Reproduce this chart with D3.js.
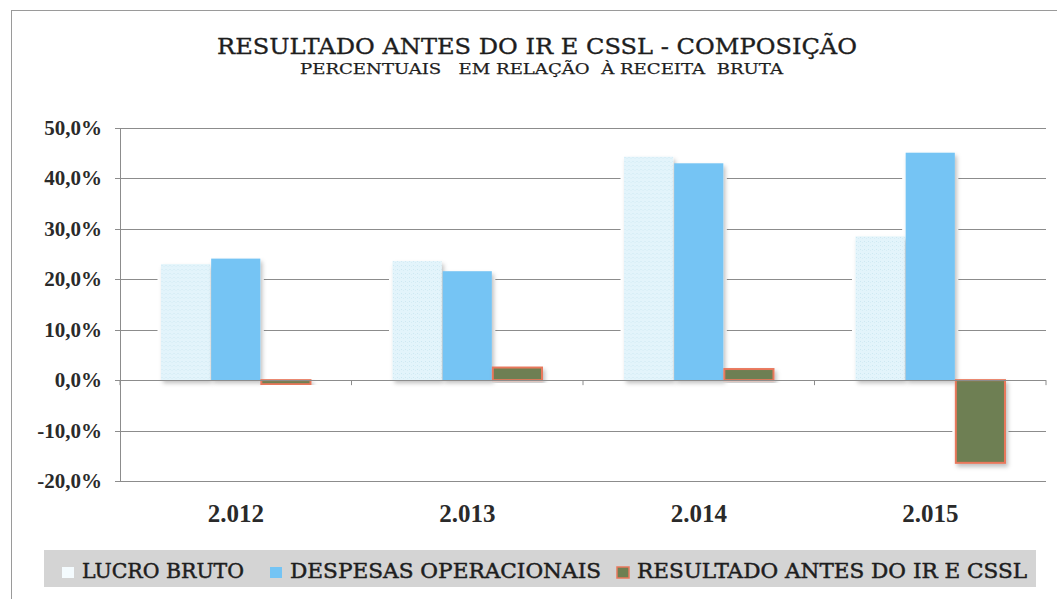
<!DOCTYPE html>
<html>
<head>
<meta charset="utf-8">
<script src="https://cdn.jsdelivr.net/npm/d3@7"></script>
<style>
  body { margin: 0; background: #fff; }
  svg { display: block; }
  svg text { font-family: "Liberation Serif", "DejaVu Serif", serif; font-weight: bold; fill: #2a2a2a; }
  svg text.titulo { font-family: "DejaVu Serif", serif; font-weight: normal; fill: #1e1e1e; stroke: #1e1e1e; stroke-width: 0.35px; }
</style>
</head>
<body>
<div class="chart"></div>
<script>

var anos = ["2.012", "2.013", "2.014", "2.015"];
var series = ["LUCRO BRUTO", "DESPESAS OPERACIONAIS", "RESULTADO ANTES DO IR E CSSL"];
var lucroBruto = [23.0, 23.6, 44.3, 28.5];
var despesas = [24.1, 21.6, 43.0, 45.1];
var resultado = [-0.8, 2.5, 2.2, -16.4];
var yTicks = [50, 40, 30, 20, 10, 0, -10, -20];

var width = 1057, height = 599;

var svg = d3.select("div.chart")
    .append("svg")
    .attr("width", width)
    .attr("height", height);

var defs = svg.append("defs");

// leve sombra nas barras
var f = defs.append("filter").attr("id", "sombra")
    .attr("x", "-10%").attr("y", "-10%").attr("width", "130%").attr("height", "130%");
f.append("feDropShadow").attr("dx", 2).attr("dy", 3).attr("stdDeviation", 2)
    .attr("flood-color", "#000").attr("flood-opacity", 0.25);

// textura pontilhada do lucro bruto
var pat = defs.append("pattern").attr("id", "pontos")
    .attr("width", 4).attr("height", 4).attr("patternUnits", "userSpaceOnUse");
pat.append("rect").attr("width", 4).attr("height", 4).attr("fill", "#e3f4fb");
pat.append("rect").attr("x", 1).attr("y", 1).attr("width", 1).attr("height", 1).attr("fill", "#cde8f2");
pat.append("rect").attr("x", 3).attr("y", 2).attr("width", 1).attr("height", 1).attr("fill", "#d6edf5");

// moldura
svg.append("rect")
    .attr("x", 11.5).attr("y", 10.5)
    .attr("width", width + 20).attr("height", height + 20)
    .attr("fill", "none").attr("stroke", "#9a9a9a");

// titulos
svg.append("text")
    .attr("class", "titulo")
    .attr("x", 217).attr("y", 54)
    .attr("textLength", 640).attr("lengthAdjust", "spacingAndGlyphs")
    .style("font-size", "23px")
    .text("RESULTADO ANTES DO IR E CSSL - COMPOSIÇÃO");

svg.append("text")
    .attr("class", "titulo")
    .attr("x", 300).attr("y", 74)
    .attr("textLength", 483).attr("lengthAdjust", "spacingAndGlyphs")
    .attr("xml:space", "preserve")
    .style("font-size", "15px")
    .style("stroke-width", "0.25px")
    .style("white-space", "pre")
    .text("PERCENTUAIS   EM RELAÇÃO  À RECEITA  BRUTA");

var x0 = d3.scaleBand()
    .domain(anos)
    .range([120, 1046])
    .paddingInner(0.35)
    .paddingOuter(0.175);

var x1 = d3.scaleBand()
    .domain(series)
    .range([0, x0.bandwidth()]);

var y = d3.scaleLinear()
    .domain([-20, 50])
    .range([481, 128]);

// grade
svg.append("g")
    .selectAll("line")
    .data(yTicks)
    .enter()
    .append("line")
    .attr("x1", 115).attr("x2", 1046)
    .attr("y1", function (d) { return Math.round(y(d)) + 0.5; })
    .attr("y2", function (d) { return Math.round(y(d)) + 0.5; })
    .attr("stroke", "#8c8c8c")
    .attr("stroke-width", 1);

// eixo y
svg.append("line")
    .attr("x1", 120.5).attr("x2", 120.5)
    .attr("y1", y(50)).attr("y2", y(-20))
    .attr("stroke", "#8c8c8c");

svg.append("g")
    .selectAll("text")
    .data(yTicks)
    .enter()
    .append("text")
    .attr("x", 102)
    .attr("y", function (d) { return y(d) + 7; })
    .attr("text-anchor", "end")
    .style("font-size", "21px")
    .text(function (d) { return d.toFixed(1).replace(".", ",") + "%"; });

var rows = anos.map(function (a, i) {
    return {
        ano: a,
        vals: [
            { s: series[0], v: lucroBruto[i] },
            { s: series[1], v: despesas[i] },
            { s: series[2], v: resultado[i] }
        ]
    };
});

var fills = ["url(#pontos)", "#74c4f4", "#6e7f52"];
var strokes = ["none", "none", "#e8785c"];

var grupos = svg.append("g")
    .selectAll("g")
    .data(rows)
    .enter()
    .append("g")
    .attr("transform", function (d) { return "translate(" + x0(d.ano) + ",0)"; });

// halo branco que interrompe a grade
grupos.selectAll("rect.halo")
    .data(function (d) { return d.vals; })
    .enter()
    .append("rect")
    .attr("class", "halo")
    .attr("x", function (d) { return x1(d.s) - 3; })
    .attr("y", function (d) { return Math.min(y(d.v), y(0)) - 3; })
    .attr("width", x1.bandwidth() + 6)
    .attr("height", function (d) { return Math.abs(y(d.v) - y(0)) + 6; })
    .attr("fill", "#fff");

// linha do zero e marcas das categorias
svg.append("line")
    .attr("x1", 120).attr("x2", 1046)
    .attr("y1", Math.round(y(0)) + 0.5).attr("y2", Math.round(y(0)) + 0.5)
    .attr("stroke", "#8c8c8c");

svg.append("g")
    .selectAll("line")
    .data([120, 351.5, 583, 814.5, 1046])
    .enter()
    .append("line")
    .attr("x1", function (d) { return d; })
    .attr("x2", function (d) { return d; })
    .attr("y1", y(0)).attr("y2", y(0) + 5)
    .attr("stroke", "#8c8c8c");

grupos.selectAll("rect.bar")
    .data(function (d) { return d.vals; })
    .enter()
    .append("rect")
    .attr("class", "bar")
    .attr("x", function (d) { return x1(d.s) + 0.5; })
    .attr("y", function (d) { return Math.min(y(d.v), y(0)); })
    .attr("width", x1.bandwidth() - 1)
    .attr("height", function (d) { return Math.max(Math.abs(y(d.v) - y(0)), 1); })
    .attr("fill", function (d) { return fills[series.indexOf(d.s)]; })
    .attr("stroke", function (d) { return strokes[series.indexOf(d.s)]; })
    .attr("stroke-width", 2)
    .attr("filter", "url(#sombra)");

// rotulos do eixo x
svg.append("g")
    .selectAll("text")
    .data(anos)
    .enter()
    .append("text")
    .attr("x", function (d) { return x0(d) + x0.bandwidth() / 2; })
    .attr("y", 522)
    .attr("text-anchor", "middle")
    .style("font-size", "25px")
    .text(function (d) { return d; });

// legenda
svg.append("rect")
    .attr("x", 44).attr("y", 550)
    .attr("width", 992).attr("height", 37)
    .attr("fill", "#d4d4d4");

var legX = [62, 270, 617];
var legW = [162, 311, 390];
var leg = svg.append("g")
    .selectAll("g")
    .data(series)
    .enter()
    .append("g")
    .attr("transform", function (d, i) { return "translate(" + legX[i] + ",578)"; });

leg.append("rect")
    .attr("x", 0).attr("y", -11)
    .attr("width", 12).attr("height", 11)
    .attr("fill", function (d, i) { return i === 0 ? "#f4fbfe" : fills[i]; })
    .attr("stroke", function (d, i) { return strokes[i]; })
    .attr("stroke-width", 1.5);

leg.append("text")
    .attr("class", "titulo")
    .attr("x", 20).attr("y", 0)
    .attr("textLength", function (d, i) { return legW[i]; })
    .attr("lengthAdjust", "spacingAndGlyphs")
    .style("font-size", "21px")
    .style("stroke-width", "0.5px")
    .text(function (d) { return d; });

</script>
</body>
</html>
